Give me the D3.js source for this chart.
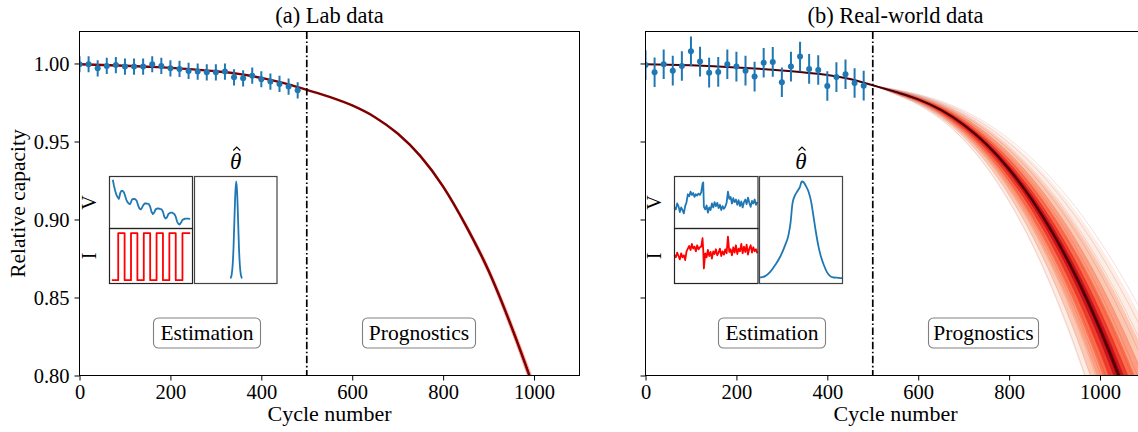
<!DOCTYPE html>
<html>
<head>
<meta charset="utf-8">
<script src="https://cdn.jsdelivr.net/npm/d3@7"></script>
<style>
  body { margin: 0; background: #fff; }
  svg { display: block; }
  text { font-family: "Liberation Serif", "DejaVu Serif", serif; fill: #000; }
</style>
</head>
<body>
<svg id="chart" width="1138" height="432"></svg>
<script>
// ---------- capacity data ----------
const xTicks = [0, 200, 400, 600, 800, 1000];
const yTicks = [0.80, 0.85, 0.90, 0.95, 1.00];
const splitCycle = 500;

// measured capacity during the estimation window
const measCycles = [0,20,40,60,80,100,120,140,160,180,200,220,240,260,280,300,320,340,360,380,400,420,440,460,480];
const labCapacity = [0.9995,0.9995,0.9969,0.9984,0.9990,0.9980,0.9980,0.9980,0.9995,0.9984,0.9969,0.9965,0.9952,
                     0.9948,0.9943,0.9943,0.9948,0.9911,0.9905,0.9922,0.9899,0.9884,0.9869,0.9852,0.9828];
const realCapacity = [0.9990,0.9944,0.9995,0.9954,0.9984,1.0078,1.0012,0.9941,0.9946,0.9995,0.9980,0.9954,0.9916,
                      1.0005,1.0010,0.9880,0.9980,1.0044,0.9965,0.9958,0.9856,0.9913,0.9931,0.9875,0.9858];
const labErr = 0.0052;
const realErr = 0.0095;

// predicted mean capacity trajectories
const cycleGrid = [0,50,100,150,200,250,300,350,400,450,500,550,600,650,700,750,800,850,900,950,1000,1050,1100];
const labMean  = [0.9995,0.9990,0.9985,0.9979,0.9972,0.9962,0.9950,0.9933,0.9908,0.9874,0.9831,0.9786,0.9731,
                  0.9656,0.9551,0.9406,0.9211,0.8961,0.8671,0.8315,0.7915,0.7480,0.6990];
const realMean = [0.9995,0.9992,0.9988,0.9982,0.9975,0.9966,0.9955,0.9942,0.9926,0.9900,0.9860,0.9818,0.9770,
                  0.9702,0.9607,0.9482,0.9322,0.9127,0.8892,0.8617,0.8297,0.7932,0.7522];

// prognostic spread: multipliers on the capacity fade after the split cycle
const labBandLow   = [0.975, 0.990];
const labBandHigh  = [1.025, 1.010];
const labBandColor = ["#ef3b2c", "#a50f15"];
const labBandAlpha = [0.45, 0.9];

const realBandLow   = [0.66, 0.74, 0.81, 0.87, 0.92, 0.955, 0.98];
const realBandHigh  = [1.40, 1.31, 1.23, 1.16, 1.10, 1.05, 1.02];
const realBandColor = ["#fee5d9", "#fcbba1", "#fc9272", "#fb6a4a", "#ef3b2c", "#cb181d", "#99000d"];
const realBandAlpha = [0.7, 0.75, 0.8, 0.9, 0.95, 1.0, 1.0];
const realSampleFade = [0.64,0.69,0.73,0.77,0.81,0.85,0.89,0.93,0.97,1.00,1.04,1.08,1.13,1.18,1.24,1.31,1.38];

// ---------- inset signals ----------
// lab: pulsed profile
const labVTime = [4.0,5.3,6.9,8.5,10.1,11.3,12.1,13.0,14.2,15.8,17.4,19.0,20.2,21.5,23.1,24.7,25.9,27.1,28.7,31.2,
                  32.8,34.4,36.0,37.7,39.3,40.9,42.5,44.9,47.4,49.0,50.6,52.2,53.8,55.5,57.9,60.3,62.8,64.4,66.0,
                  67.6,69.2,70.9,73.3,75.7,78.1,79.8,81.4,83.0,84.6,86.2,87.9,91.1,94.3,97.2];
const labVolt  = [0.937,0.829,0.722,0.639,0.595,0.570,0.620,0.684,0.722,0.722,0.696,0.620,0.557,0.513,0.481,0.468,
                  0.506,0.557,0.570,0.563,0.532,0.449,0.386,0.367,0.405,0.456,0.481,0.481,0.468,0.418,0.323,0.278,
                  0.304,0.367,0.386,0.380,0.367,0.323,0.228,0.190,0.215,0.278,0.304,0.304,0.278,0.228,0.133,0.089,
                  0.076,0.114,0.165,0.190,0.190,0.184];
const labITime = [2.8,10.5,18.2,25.9,33.6,41.3,49.0,56.7,64.4,72.1,79.8,87.9,97.2];
const labCurr  = [0,1,0,1,0,1,0,1,0,1,0,1,1];
const labThetaX = [0.433,0.440,0.451,0.462,0.473,0.484,0.495,0.506,0.517,0.528,0.539,0.550,0.561,0.572,0.579];
const labThetaP = [0.004,0.011,0.044,0.135,0.32,0.61,0.88,1.0,0.88,0.61,0.32,0.135,0.044,0.011,0.004];

// real-world: field operation
const realTime = [0,4,8,12,16,20,24,28,32,36,40,44,48,52,56,60,64,68,72,76,80,84,86,88,
                  92,96,100,104,108,112,116,120,124,128,132,136,140,144,148,152,156,160,164,168,172,176,
                  180,184,188,192,196,200,204,208,212,216,220,224,228,232,236,240,244,248];
const realVolt = [64,58,76,68,50,64,56,46,68,80,104,98,112,102,108,96,104,100,106,102,110,136,140,66,
                  58,70,48,64,56,76,64,80,68,78,62,72,56,68,60,66,78,112,90,96,76,92,
                  80,88,72,86,68,82,64,80,88,74,94,78,66,84,76,88,72,80];
const realCurr = [85,78,92,82,72,90,78,84,70,96,104,112,100,118,104,110,96,114,102,108,110,135,100,45,
                  90,78,100,82,94,74,96,88,102,84,92,104,82,96,86,102,90,140,94,102,84,108,
                  92,114,88,104,96,118,90,110,94,116,86,104,114,92,108,96,102,90];
const realThetaX = [0.008,0.068,0.129,0.189,0.249,0.309,0.349,0.373,0.398,0.430,0.462,0.486,0.510,0.534,0.558,
                    0.590,0.622,0.651,0.679,0.711,0.743,0.775,0.811,0.851,0.892,0.952,1.0];
const realThetaP = [0.012,0.026,0.070,0.140,0.225,0.345,0.448,0.568,0.775,0.860,0.905,0.940,0.998,0.988,0.953,
                    0.895,0.792,0.637,0.482,0.329,0.219,0.140,0.070,0.026,0.012,0.009,0.005];

// ---------- layout ----------
const W = 1138, H = 432;
const plotTop = 31.5, plotBottom = 375.5, panelW = 500;
const serif = "'Liberation Serif', 'DejaVu Serif', serif";
const svg = d3.select("#chart");
svg.append("rect").attr("width", W).attr("height", H).attr("fill", "#fff");
const defs = svg.append("defs");

const panels = [
  { id: "lab", x0: 79.5, title: "(a) Lab data", yLabels: true,
    meas: labCapacity, err: labErr, mean: labMean,
    bandLow: labBandLow, bandHigh: labBandHigh, bandColor: labBandColor, bandAlpha: labBandAlpha,
    samples: [], meanColor: "#7f0000", meanWidth: 2.4,
    inset: { vx: 109.5, vw: 83, tx: 194.5, tw: 82.5, labelX: 96, kind: "lab" },
    est: [153.5, 107], prog: [362.5, 113] },
  { id: "real", x0: 645.5, title: "(b) Real-world data", yLabels: false,
    meas: realCapacity, err: realErr, mean: realMean,
    bandLow: realBandLow, bandHigh: realBandHigh, bandColor: realBandColor, bandAlpha: realBandAlpha,
    samples: realSampleFade, meanColor: "#4a0008", meanWidth: 2.0,
    inset: { vx: 674.5, vw: 83.5, tx: 759.5, tw: 83, labelX: 661, kind: "real" },
    est: [718.5, 107], prog: [928.5, 110] }
];

panels.forEach(p => {
  const x = d3.scaleLinear().domain([0, 1100]).range([p.x0, p.x0 + panelW]);
  const y = d3.scaleLinear().domain([0.8, 1.0205]).range([plotBottom, plotTop]);
  const g = svg.append("g");

  defs.append("clipPath").attr("id", "clip-" + p.id)
    .append("rect").attr("x", p.x0).attr("y", plotTop).attr("width", panelW).attr("height", plotBottom - plotTop);
  const plot = g.append("g").attr("clip-path", `url(#clip-${p.id})`);

  // prognostic bands
  const iSplit = cycleGrid.indexOf(splitCycle);
  const mSplit = p.mean[iSplit];
  const faded = (i, f) => cycleGrid[i] <= splitCycle ? p.mean[i] : mSplit - f * (mSplit - p.mean[i]);
  const area = d3.area().curve(d3.curveMonotoneX)
    .x(d => x(d.c)).y0(d => y(d.lo)).y1(d => y(d.hi));
  p.bandLow.forEach((lo, k) => {
    const rows = cycleGrid.map((c, i) => ({ c, lo: faded(i, p.bandHigh[k]), hi: faded(i, lo) }))
      .filter(d => d.c >= splitCycle - 50);
    plot.append("path").datum(rows).attr("d", area)
      .attr("fill", p.bandColor[k]).attr("fill-opacity", p.bandAlpha[k]);
  });
  const line = d3.line().curve(d3.curveMonotoneX).x(d => x(d.c)).y(d => y(d.v));
  p.samples.forEach(f => {
    const rows = cycleGrid.map((c, i) => ({ c, v: faded(i, f) })).filter(d => d.c >= splitCycle);
    plot.append("path").datum(rows).attr("d", line)
      .attr("fill", "none").attr("stroke", "#99000d").attr("stroke-opacity", 0.16).attr("stroke-width", 0.8);
  });
  plot.append("path").datum(cycleGrid.map((c, i) => ({ c, v: p.mean[i] }))).attr("d", line)
    .attr("fill", "none").attr("stroke", p.meanColor).attr("stroke-width", p.meanWidth);

  // measurements with error bars
  const meas = measCycles.map((c, i) => ({ c, v: p.meas[i] }));
  plot.selectAll("line.err").data(meas).join("line").attr("class", "err")
    .attr("x1", d => x(d.c)).attr("x2", d => x(d.c))
    .attr("y1", d => y(d.v - p.err)).attr("y2", d => y(d.v + p.err))
    .attr("stroke", "#1f77b4").attr("stroke-width", 2);
  plot.selectAll("circle.pt").data(meas).join("circle").attr("class", "pt")
    .attr("cx", d => x(d.c)).attr("cy", d => y(d.v)).attr("r", 3).attr("fill", "#1f77b4");

  // split between estimation and prognostics
  g.append("line").attr("x1", x(splitCycle)).attr("x2", x(splitCycle)).attr("y1", plotTop).attr("y2", plotBottom)
    .attr("stroke", "#000").attr("stroke-width", 1.7).attr("stroke-dasharray", "7.5,2.5,1.6,2.5");

  // axes
  const xAxis = g.append("g").attr("transform", `translate(0,${plotBottom})`)
    .call(d3.axisBottom(x).tickValues(xTicks).tickSize(5).tickPadding(4).tickFormat(d3.format("d")));
  const yAxis = g.append("g").attr("transform", `translate(${p.x0},0)`)
    .call(d3.axisLeft(y).tickValues(yTicks).tickSize(5).tickPadding(5)
      .tickFormat(p.yLabels ? d3.format(".2f") : () => ""));
  [xAxis, yAxis].forEach(a => {
    a.select(".domain").remove();
    a.attr("font-family", serif).attr("font-size", 20.5);
    a.selectAll(".tick line").attr("stroke", "#000").attr("stroke-width", 1);
  });
  g.append("rect").attr("x", p.x0).attr("y", plotTop).attr("width", panelW).attr("height", plotBottom - plotTop)
    .attr("fill", "none").attr("stroke", "#000").attr("stroke-width", 1);

  // titles and axis labels
  const cx = p.x0 + panelW / 2;
  g.append("text").attr("x", cx).attr("y", 23).attr("text-anchor", "middle")
    .attr("font-size", 22.5).text(p.title);
  g.append("text").attr("x", cx).attr("y", 421).attr("text-anchor", "middle")
    .attr("font-size", 22).text("Cycle number");

  // phase labels
  [[p.est, "Estimation"], [p.prog, "Prognostics"]].forEach(([b, label]) => {
    g.append("rect").attr("x", b[0]).attr("y", 318).attr("width", b[1]).attr("height", 30)
      .attr("rx", 5).attr("fill", "#fff").attr("stroke", "#808080").attr("stroke-width", 1.1);
    g.append("text").attr("x", b[0] + b[1] / 2).attr("y", 333).attr("dy", "0.34em")
      .attr("text-anchor", "middle").attr("font-size", 21.5).text(label);
  });

  // inset: input signals and parameter posterior
  const s = p.inset;
  const vTop = 176.5, mid = 228.5, iBot = 283.5;
  const ins = g.append("g");
  ins.append("rect").attr("x", s.vx).attr("y", vTop).attr("width", s.vw).attr("height", iBot - vTop).attr("fill", "#fff");
  ins.append("rect").attr("x", s.tx).attr("y", vTop).attr("width", s.tw).attr("height", iBot - vTop).attr("fill", "#fff");

  let vData, iData, vx, vy, iy, stepCurve;
  if (s.kind === "lab") {
    vx = d3.scaleLinear().domain([0, 100]).range([s.vx, s.vx + s.vw]);
    vy = d3.scaleLinear().domain([0, 1]).range([mid, vTop]);
    iy = d3.scaleLinear().domain([-0.07, 1.1]).range([iBot, mid]);
    vData = labVTime.map((t, i) => [t, labVolt[i]]);
    iData = labITime.map((t, i) => [t, labCurr[i]]);
    stepCurve = d3.curveStepAfter;
  } else {
    vx = d3.scaleLinear().domain([0, 250]).range([s.vx, s.vx + s.vw]);
    vy = d3.scaleLinear().domain([0, 158]).range([mid, vTop]);
    iy = d3.scaleLinear().domain([0, 164]).range([iBot, mid]);
    vData = realTime.map((t, i) => [t, realVolt[i]]);
    iData = realTime.map((t, i) => [t, realCurr[i]]);
    stepCurve = d3.curveLinear;
  }
  ins.append("path").datum(vData)
    .attr("d", d3.line().x(d => vx(d[0])).y(d => vy(d[1])))
    .attr("fill", "none").attr("stroke", "#1f77b4").attr("stroke-width", 1.8).attr("stroke-linejoin", "round");
  ins.append("path").datum(iData)
    .attr("d", d3.line().curve(stepCurve).x(d => vx(d[0])).y(d => iy(d[1])))
    .attr("fill", "none").attr("stroke", "#ff0000").attr("stroke-width", 1.8).attr("stroke-linejoin", "round");

  const tx = d3.scaleLinear().domain([0, 1]).range([s.tx, s.tx + s.tw]);
  const ty = d3.scaleLinear().domain([-0.0495, 1.0495]).range([iBot, vTop]);
  const thX = s.kind === "lab" ? labThetaX : realThetaX;
  const thP = s.kind === "lab" ? labThetaP : realThetaP;
  ins.append("path").datum(thX.map((t, i) => [t, thP[i]]))
    .attr("d", d3.line().curve(d3.curveMonotoneX).x(d => tx(d[0])).y(d => ty(d[1])))
    .attr("fill", "none").attr("stroke", "#1f77b4").attr("stroke-width", 1.8);

  ins.append("rect").attr("x", s.vx).attr("y", vTop).attr("width", s.vw).attr("height", mid - vTop)
    .attr("fill", "none").attr("stroke", "#333").attr("stroke-width", 1.2);
  ins.append("rect").attr("x", s.vx).attr("y", mid).attr("width", s.vw).attr("height", iBot - mid)
    .attr("fill", "none").attr("stroke", "#222").attr("stroke-width", 1.2);
  ins.append("rect").attr("x", s.tx).attr("y", vTop).attr("width", s.tw).attr("height", iBot - vTop)
    .attr("fill", "none").attr("stroke", "#444").attr("stroke-width", 1.2);

  ins.append("text").attr("transform", `translate(${s.labelX},${(vTop + mid) / 2}) rotate(-90)`)
    .attr("text-anchor", "middle").attr("font-size", 20).text("V");
  ins.append("text").attr("transform", `translate(${s.labelX},${(mid + iBot) / 2}) rotate(-90)`)
    .attr("text-anchor", "middle").attr("font-size", 20).text("I");
  // parameter estimate symbol: italic theta with a hat accent stroke
  const thCx = s.tx + s.tw / 2;
  ins.append("text").attr("x", thCx).attr("y", 169).attr("text-anchor", "middle")
    .attr("font-size", 23).attr("font-style", "italic").text("\u03B8");
  ins.append("path")
    .attr("d", `M${thCx - 2.5},${150.5} L${thCx + 1},${147} L${thCx + 4.5},${150.5}`)
    .attr("fill", "none").attr("stroke", "#000").attr("stroke-width", 1.1);
});

// shared y label
svg.append("text").attr("transform", `translate(25,${(plotTop + plotBottom) / 2}) rotate(-90)`)
  .attr("text-anchor", "middle").attr("font-size", 21.5).text("Relative capacity");
</script>
</body>
</html>
